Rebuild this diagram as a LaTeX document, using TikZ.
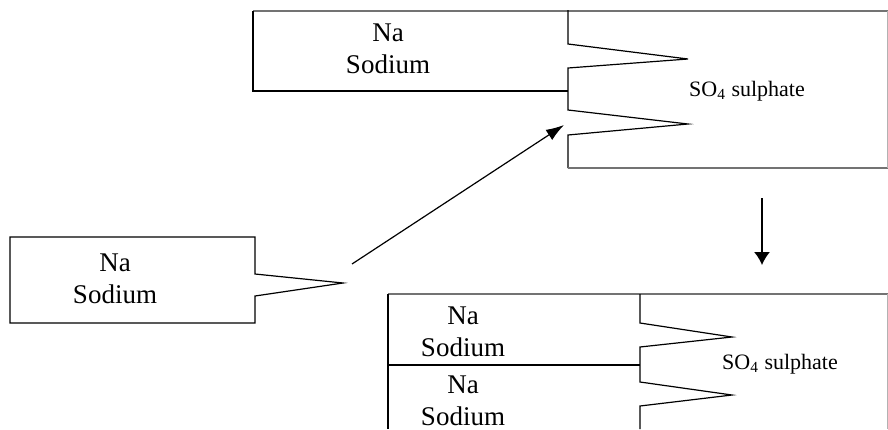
\documentclass[tikz,border=0pt]{standalone}
\usepackage{fontspec}
\setmainfont{Liberation Serif}
\usepackage{tikz}
\usetikzlibrary{arrows.meta}
\tikzset{
  line/.style={draw=black, line width=0.6pt},
  faint/.style={draw=black!30, line width=0.5pt},
  rim/.style={draw=black!55, line width=0.8pt},
  arr/.style={draw=black, line width=0.6pt, -{Latex[length=9pt,width=6pt]}},
  darr/.style={draw=black, line width=0.7pt, -{Latex[length=6.5pt,width=8pt]}},
  ion/.style={font=\fontsize{13.5}{16}\selectfont, align=center, inner sep=0pt},
  anion/.style={font=\fontsize{11}{13}\selectfont, inner sep=0pt}
}

\begin{document}
\begin{tikzpicture}[x=0.5pt, y=-0.5pt]
  \useasboundingbox (0,0) rectangle (888,429);

  % upper salt: sodium block against the sulphate teeth
  \draw[rim] (253,11) -- (888,11);
  \draw[line] (253,11) -- (253,91) -- (568,91);
  \draw[line] (568,10) -- (568,44) -- (688,59) -- (568,68) -- (568,110)
    -- (688,124) -- (568,135) -- (568,168);
  \draw[rim] (568,168) -- (888,168);
  \draw[faint] (887,11) -- (887,168);
  \node[ion] (na1) at (388,49) {Na\\Sodium};
  \node[anion] (so1) at (747,91) {SO\textsubscript{4} sulphate};

  % free sodium in a callout
  \draw[line] (10,237) -- (255,237) -- (255,274) -- (343,283)
    -- (255,296) -- (255,323) -- (10,323) -- cycle;
  \node[ion] (na0) at (115,279) {Na\\Sodium};

  \coordinate (tail) at (352,264);
  \coordinate (notch) at (564,125);
  \draw[arr] (tail) -- (notch);

  \coordinate (down1) at (762,198);
  \coordinate (down2) at (762,265);
  \draw[darr] (down1) -- (down2);

  % lower salt: two sodium ions on one sulphate
  \draw[rim] (388,294) -- (888,294);
  \draw[line] (388,294) -- (388,429);
  \draw[line] (388,365) -- (640,365);
  \draw[line] (640,294) -- (640,323) -- (732,337) -- (640,347) -- (640,382)
    -- (732,395) -- (640,406) -- (640,429);
  \draw[faint] (887,294) -- (887,429);
  \node[ion] (na2) at (463,332) {Na\\Sodium};
  \node[ion] (na3) at (463,401) {Na\\Sodium};
  \node[anion] (so2) at (780,364) {SO\textsubscript{4} sulphate};
\end{tikzpicture}
\end{document}
